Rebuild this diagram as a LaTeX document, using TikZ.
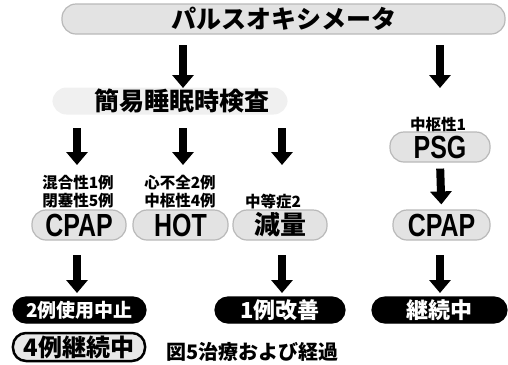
\documentclass[tikz,border=0pt]{standalone}
\usepackage{fontspec}
\usetikzlibrary{arrows.meta}
\newfontfamily\cjk{Noto Sans CJK JP}
\newfontfamily\latn[FakeStretch=0.78]{Liberation Sans}
\tikzset{
  x=1bp, y=-1bp,
  lightbox/.style={draw=gray!55, line width=1.2bp, fill=gray!22, rounded corners=14bp, minimum height=30bp, inner sep=0pt},
  darkbox/.style={draw=black, line width=1.2bp, fill=black, text=white, rounded corners=13bp, minimum height=26bp, inner sep=0pt, font=\cjk\bfseries\fontsize{22bp}{24bp}\selectfont},
  outbox/.style={draw=black, line width=2.5bp, fill=gray!18, rounded corners=13bp, minimum height=28bp, inner sep=0pt, font=\cjk\bfseries\fontsize{24bp}{26bp}\selectfont},
  lbl/.style={font=\cjk\bfseries\fontsize{15.5bp}{18bp}\selectfont, inner sep=0pt, align=center},
  big/.style={font=\cjk\bfseries\fontsize{25bp}{27bp}\selectfont},
  lat/.style={font=\latn\bfseries\fontsize{32bp}{34bp}\selectfont},
  fat/.style={line width=8bp, -{Triangle[width=21bp,length=13bp]}}
}
\begin{document}
\begin{tikzpicture}
\useasboundingbox (0,0) rectangle (508,364);
% top
\node[lightbox, minimum width=443bp, big] (top) at (283.5,19) {パルスオキシメータ};
\node[lightbox, draw=none, fill=gray!12, minimum width=235bp, minimum height=27bp, big] (kan) at (170,101) {\hspace*{24bp}簡易睡眠時検査};
\node[lbl] (chu1) at (438,125) {中枢性1};
\node[lightbox, minimum width=100bp, lat] (psg) at (440,147) {PSG};
% labels
\node[lbl] (l1) at (78,192) {混合性1例\\閉塞性5例};
\node[lbl] (l2) at (180,192) {心不全2例\\中枢性4例};
\node[lbl] (l3) at (273,202) {中等症2};
% middle boxes
\node[lightbox, minimum width=94bp, lat] (cpap) at (79,225) {CPAP};
\node[lightbox, minimum width=95bp, lat] (hot) at (180.5,225) {HOT};
\node[lightbox, minimum width=94bp, font=\cjk\bfseries\fontsize{26bp}{28bp}\selectfont] (gen) at (280,225) {減量};
\node[lightbox, minimum width=97bp, lat] (cpap2) at (441.5,225) {CPAP};
% bottom
\node[darkbox, minimum width=133bp, font=\cjk\bfseries\fontsize{19bp}{21bp}\selectfont] (stop) at (79.5,310) {2例使用中止};
\node[outbox, minimum width=132bp] (cont4) at (79,347) {4例継続中};
\node[darkbox, minimum width=130bp] (imp) at (280,310) {1例改善};
\node[darkbox, minimum width=135bp] (cont) at (439.5,310) {継続中};
\node[font=\cjk\bfseries\fontsize{20bp}{22bp}\selectfont, anchor=west, inner sep=0pt] (cap) at (166,352) {図5治療および経過};
% arrows
\coordinate (a1s) at (183,45); \coordinate (a1e) at (183,88);
\coordinate (a2s) at (440,45); \coordinate (a2e) at (440,88);
\draw[fat] (a1s) -- (a1e);
\draw[fat] (a2s) -- (a2e);
\coordinate (b1s) at (77,128); \coordinate (b1e) at (77,165);
\coordinate (b2s) at (183,128); \coordinate (b2e) at (183,165);
\coordinate (b3s) at (282,128); \coordinate (b3e) at (282,165);
\draw[fat] (b1s) -- (b1e);
\draw[fat] (b2s) -- (b2e);
\draw[fat] (b3s) -- (b3e);
\draw[fat, shorten <=6bp, shorten >=5bp] (psg.south) -- (cpap2.north);
\coordinate (c1s) at (77,255); \coordinate (c1e) at (77,293);
\coordinate (c3s) at (282,255); \coordinate (c3e) at (282,293);
\coordinate (c4s) at (440,255); \coordinate (c4e) at (440,293);
\draw[fat] (c1s) -- (c1e);
\draw[fat] (c3s) -- (c3e);
\draw[fat] (c4s) -- (c4e);
\end{tikzpicture}
\end{document}
